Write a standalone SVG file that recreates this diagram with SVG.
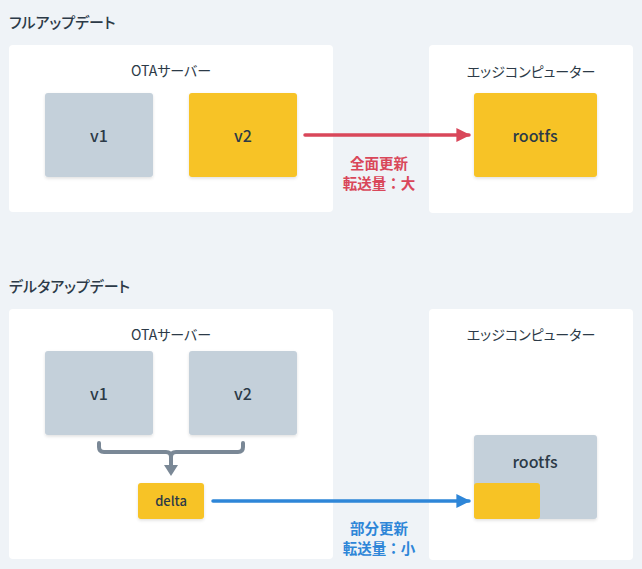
<svg xmlns="http://www.w3.org/2000/svg" width="642" height="569" viewBox="0 0 642 569">
<style>
text{font-family:"Noto Sans CJK JP","Noto Sans",sans-serif;fill:#2c3a47;font-feature-settings:"palt"}
.title{font-size:15px;font-weight:500}
.plabel{font-size:14px;font-weight:400;text-anchor:middle}
.blabel{font-size:16px;font-weight:500;text-anchor:middle}
.small{font-size:13px;font-weight:500;text-anchor:middle}
.panel{fill:#ffffff}
.grey{fill:#c4d0da}
.yellow{fill:#f7c325}
.red{fill:#d9475a;font-size:14.5px;font-weight:700;text-anchor:middle;font-feature-settings:normal}
.blue{fill:#2e86d8;font-size:14.5px;font-weight:700;text-anchor:middle;font-feature-settings:normal}
</style>
<defs>
<filter id="sh" x="-20%" y="-20%" width="140%" height="150%">
<feDropShadow dx="0" dy="1.5" stdDeviation="1.5" flood-color="#000" flood-opacity="0.12"/>
</filter>
<marker id="ar" viewBox="0 0 10 10" refX="9" refY="5" markerWidth="4" markerHeight="4" markerUnits="strokeWidth" orient="auto"><path d="M0,0 L10,5 L0,10 Z" fill="#d9475a"/></marker>
<marker id="ab" viewBox="0 0 10 10" refX="9" refY="5" markerWidth="4" markerHeight="4" markerUnits="strokeWidth" orient="auto"><path d="M0,0 L10,5 L0,10 Z" fill="#2e86d8"/></marker>
</defs>
<rect width="642" height="569" fill="#eff3f7"/>

<g id="full-update">
<text class="title" x="9" y="28">フルアップデート</text>
<g id="full-server">
<rect class="panel" x="9" y="45" width="324" height="167" rx="4"/>
<text class="plabel" x="171" y="76">OTAサーバー</text>
</g>
<g id="full-v1"><rect class="grey" x="45" y="93" width="108" height="84" rx="3" filter="url(#sh)"/><text class="blabel" x="99" y="142">v1</text></g>
<g id="full-v2"><rect class="yellow" x="189" y="93" width="108" height="84" rx="3" filter="url(#sh)"/><text class="blabel" x="243" y="142">v2</text></g>
<g id="full-edge">
<rect class="panel" x="429" y="45" width="204" height="168" rx="4"/>
<text class="plabel" x="531" y="77">エッジコンピューター</text>
</g>
<g id="full-rootfs"><rect class="yellow" x="474" y="93" width="123" height="84" rx="3" filter="url(#sh)"/><text class="blabel" x="535" y="142">rootfs</text></g>
</g>

<g id="delta-update">
<text class="title" x="9" y="292">デルタアップデート</text>
<g id="delta-server">
<rect class="panel" x="9" y="309" width="324" height="250" rx="4"/>
<text class="plabel" x="171" y="340">OTAサーバー</text>
</g>
<g id="delta-v1"><rect class="grey" x="45" y="351" width="108" height="84" rx="3" filter="url(#sh)"/><text class="blabel" x="99" y="400">v1</text></g>
<g id="delta-v2"><rect class="grey" x="189" y="351" width="108" height="84" rx="3" filter="url(#sh)"/><text class="blabel" x="243" y="400">v2</text></g>
<g id="delta-delta"><rect class="yellow" x="138" y="483" width="66" height="36" rx="3" filter="url(#sh)"/><text class="small" x="171" y="506">delta</text></g>
<g id="delta-edge">
<rect class="panel" x="429" y="309" width="204" height="251" rx="4"/>
<text class="plabel" x="531" y="340">エッジコンピューター</text>
</g>
<g id="delta-rootfs"><rect class="grey" x="474" y="435" width="123" height="84" rx="3" filter="url(#sh)"/><text class="blabel" x="535" y="468">rootfs</text><rect class="yellow" x="474" y="483" width="66" height="36" rx="3"/></g>
</g>

<g id="connectors">
<line x1="305" y1="135" x2="469" y2="135" stroke="#d9475a" stroke-width="3.5" stroke-linecap="round" marker-end="url(#ar)"/>
<text class="red" x="379" y="169">全面更新</text>
<text class="red" x="379" y="189">転送量：大</text>
<path d="M99,443 V447 Q99,452 104,452 H166 Q171,452 171,457 V466 M243,443 V447 Q243,452 238,452 H176 Q171,452 171,457" fill="none" stroke="#7a8896" stroke-width="4" stroke-linecap="round"/>
<path d="M164,465 L178,465 L171,476 Z" fill="#7a8896"/>
<line x1="213" y1="501" x2="469" y2="501" stroke="#2e86d8" stroke-width="3.5" stroke-linecap="round" marker-end="url(#ab)"/>
<text class="blue" x="379" y="534">部分更新</text>
<text class="blue" x="379" y="554">転送量：小</text>
</g>
</svg>
